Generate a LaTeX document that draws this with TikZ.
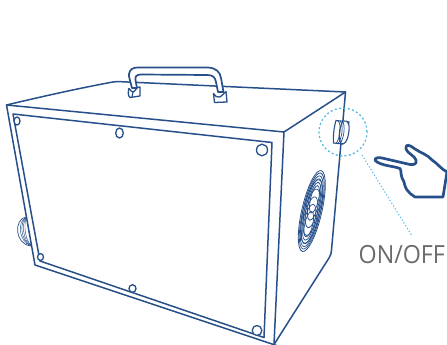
\documentclass[tikz,border=0pt]{standalone}
\usepackage{fontspec}
\setmainfont{Open Sans}
\definecolor{navy}{HTML}{27508A}
\definecolor{sky}{HTML}{55B9E4}
\definecolor{lbl}{HTML}{6A6A6A}
\tikzset{
  body/.style={draw=navy,line width=1.5pt,line join=round,line cap=round},
  thinl/.style={draw=navy,line width=0.7pt},
  hole/.style={draw=navy,line width=1.3pt,fill=white},
  handl/.style={draw=navy,line width=2.7pt,line join=round,line cap=round,fill=white},
  dotl/.style={draw=sky,line width=1.3pt,dash pattern=on 2pt off 2.4pt}
}
\begin{document}
\begin{tikzpicture}[x=1pt,y=-1pt]
\useasboundingbox (0,0) rectangle (447,345);
\clip (0,0) rectangle (447,345);
% box
\coordinate (a) at (6.5,105);
\coordinate (b) at (284,132);
\coordinate (c) at (345.5,92);
\coordinate (d) at (35,265);
\coordinate (e) at (274,344.5);
\draw[thinl] (26,217) .. controls (14,219) and (14,244) .. (31,246);
\foreach \k in {1,...,4}{
  \draw[thinl,line width=.45pt] (26,{217+\k*0.4}) .. controls ({15+\k*2.2},{220+\k}) and ({16+\k*2.2},{242-\k*.5}) .. (31,{246-\k*.2});
}
\draw[body] (a) -- (b) -- (c) -- (331.5,250) .. controls (331.3,253) and (331,255) .. (329,258) -- (e) -- (b);
\draw[body] (a) .. controls (40,97) and (80,88) .. (113,82) .. controls (116,81.5) and (118,81.5) .. (121,81.7) -- (c);
\draw[body] (a) -- (d) -- (290,350);
% panel
\draw[body] (13,114) -- (272,142.5) -- (264,337.5) -- (40,261) -- cycle;
% holes
\draw[hole] (17,121) ellipse (3pt and 4pt);
\draw[hole] (119.5,133) ellipse (3.8pt and 5pt);
\draw[hole] (262,150) ellipse (5.5pt and 5.8pt);
\draw[hole] (40.5,257) ellipse (3pt and 3.4pt);
\draw[hole] (132.5,288.5) ellipse (3.5pt and 3.8pt);
\draw[hole] (257,330.5) ellipse (4.8pt and 5pt);
% handle
\draw[body,line width=1.7pt,fill=white] (132,88) .. controls (130,80) and (128.5,76) .. (129,74) .. controls (130,69) and (133,67.5) .. (138,67.5)
  -- (207,67.5) .. controls (216,67.5) and (220,72) .. (221,78) -- (223.5,92)
  -- (218,92) -- (216,82) .. controls (215,77) and (213,75) .. (207,75) -- (141,74.5) .. controls (136,74.5) and (135,77) .. (135.5,80) -- (137,88) -- cycle;
\draw[body,fill=white,line width=1.3pt] (128.5,89) .. controls (129,87) and (131,92) .. (133,92) .. controls (135,92) and (137,86) .. (140,87) -- (140,96) -- (130,97.5) .. controls (128,96) and (128,92) .. (128.5,89) -- cycle;
\draw[thinl,line width=1.1pt] (133,92) -- (132,97);
\draw[body,fill=white,line width=1.3pt] (213.5,93.5) .. controls (215,96) and (217,98) .. (220,97) .. controls (222,96) and (224,93) .. (226,91.5) -- (227,102) -- (214.5,102.5) -- cycle;
% fan
\begin{scope}[shift={(311.8,211)},rotate=-13]
\foreach \r/\s/\t in {10/41.5/0,8.8/36/-3,7.6/30.5/-5.5,6.4/25/-8,5.2/19.5/-10,4/14/-12}{
  \draw[thinl,line width=.8pt] (0,\t) ellipse (\r pt and \s pt);
}
\foreach \r/\s/\t in {8.8/35.5/3.5,7.6/29.5/7,6.4/24/9.5,5.2/18.5/11.5,4/13/13.5}{
  \draw[thinl,line width=.7pt] (0,\t) ellipse (\r pt and \s pt);
}
\end{scope}
% button
\draw[navy,line width=1.1pt,fill=white] (336,120.5) .. controls (334,127) and (333,136) .. (333.5,143) -- (342.5,144) -- (349,122) -- cycle;
\draw[navy,line width=1.1pt,fill=white] (343.5,121) .. controls (349,119.5) and (350,126) .. (348.5,134) .. controls (347,142) and (344.5,145) .. (341,143.5);
\foreach \q in {-5,-3,-1}{
  \draw[navy,line width=.7pt] ({343+\q},121) .. controls ({347+\q},124) and ({345+\q},140) .. ({340.5+\q},144);
}
\draw[navy,line width=1.1pt] (343,121) .. controls (339,128) and (338,138) .. (341,143.5);
% callout
\draw[dotl] (343,132) circle (24pt);
\draw[sky,line width=1pt,dash pattern=on 1.3pt off 2pt] (362,155) -- (412,236);
% hand
\draw[handl] (447,172) .. controls (441,169) and (437,163) .. (432,160) .. controls (428,155) and (421,153) .. (415,149) .. controls (410,145) and (405,143) .. (406,149)
 .. controls (407,153) and (415,156) .. (416,160) .. controls (417,164) and (414,165) .. (410,164.5) -- (382,158) .. controls (375,156.5) and (373,160) .. (377,162) .. controls (384,166) and (393,166) .. (400,168.5) .. controls (402,172) and (400,175) .. (402,178) .. controls (405,182) and (404,186) .. (407,190) .. controls (409,193) and (412,195) .. (415,197) -- (430,197) -- (443,197) -- cycle;
% label
\node[lbl,anchor=base west,inner sep=0pt,font=\fontsize{25}{25}\selectfont] (onoff) at (358.5,263) {\scalebox{.93}[1]{ON/OFF}};
\end{tikzpicture}
\end{document}
